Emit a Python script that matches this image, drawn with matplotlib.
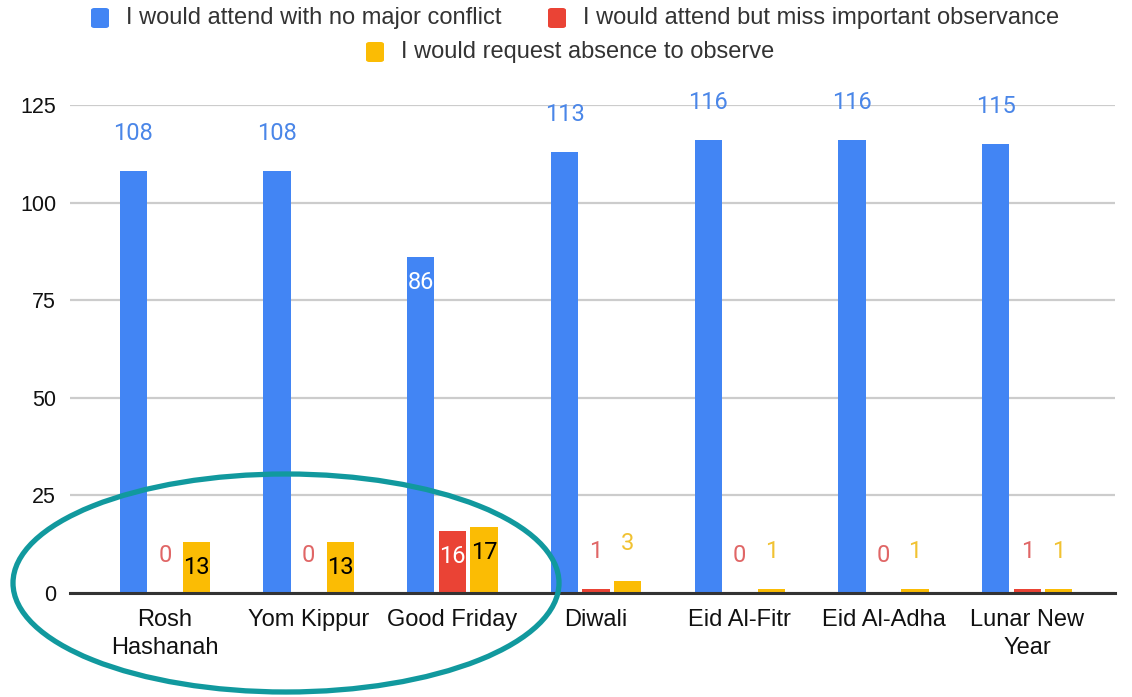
import matplotlib
matplotlib.use("Agg")
import matplotlib.pyplot as plt
from matplotlib.patches import Ellipse, FancyBboxPatch
import numpy as np

categories = ["Rosh\nHashanah", "Yom Kippur", "Good Friday", "Diwali",
              "Eid Al-Fitr", "Eid Al-Adha", "Lunar New\nYear"]
no_conflict = [108, 108, 86, 113, 116, 116, 115]
miss_observance = [0, 0, 16, 1, 0, 0, 1]
request_absence = [13, 13, 17, 3, 1, 1, 1]
series_names = ["I would attend with no major conflict",
                "I would attend but miss important observance",
                "I would request absence to observe"]
y_ticks = [0, 25, 50, 75, 100, 125]

bar_colors = ["#4285F4", "#EA4335", "#FBBC04"]
label_colors = ["#4A86E8", "#E06666", "#F1C232"]
# label placement: True = inside bar top
inside_flags = [
    [False, False, True, False, False, False, False],
    [False, False, True, False, False, False, False],
    [True, True, True, False, False, False, False],
]
inside_text_colors = ["white", "white", "black"]

W, H = 1132, 697
fig = plt.figure(figsize=(W / 100, H / 100), dpi=100)
ax = fig.add_axes([70 / W, 1 - 593 / H, (1115 - 70) / W, (593 - 105) / H])

x = np.arange(len(categories))
offsets = [-0.22, 0.0, 0.22]
width = 0.19
all_series = [no_conflict, miss_observance, request_absence]
for s, (vals, off) in enumerate(zip(all_series, offsets)):
    bars = ax.bar(x + off, vals, width=width, color=bar_colors[s], zorder=3)
    for i, (b, v) in enumerate(zip(bars, vals)):
        cx = b.get_x() + b.get_width() / 2
        if inside_flags[s][i]:
            ax.annotate(str(v), (cx, v), xytext=(0, -18.5), textcoords="offset points",
                        ha="center", va="center", fontsize=17, family="Roboto",
                        color=inside_text_colors[s], zorder=5)
        else:
            ax.annotate(str(v), (cx, v), xytext=(0, 27), textcoords="offset points",
                        ha="center", va="center", fontsize=17, family="Roboto",
                        color=label_colors[s], zorder=5, annotation_clip=False)

ax.set_xlim(-0.661, 6.611)
ax.set_ylim(0, 125)
ax.set_yticks(y_ticks)
ax.set_yticklabels([str(t) for t in y_ticks], fontsize=15.5, family="Liberation Sans", color="#111111")
ax.set_xticks(x)
ax.set_xticklabels(categories, fontsize=17, family="Liberation Sans", color="#111111",
                   linespacing=1.35)
ax.tick_params(axis="both", length=0)
ax.tick_params(axis="y", pad=10)
ax.tick_params(axis="x", pad=11.5)
ax.grid(axis="y", color="#CCCCCC", linewidth=1.6, zorder=0)
for sp in ["top", "right", "left"]:
    ax.spines[sp].set_visible(False)
ax.spines["bottom"].set_color("#333333")
ax.spines["bottom"].set_linewidth(2.2)
ax.spines["bottom"].set_zorder(4)

# legend (manual, centred rows)
legend_items = [
    (series_names[0], bar_colors[0], 91, 18),
    (series_names[1], bar_colors[1], 548, 18),
    (series_names[2], bar_colors[2], 366, 52),
]
for name, col, px, py in legend_items:
    sq = FancyBboxPatch((px / W, 1 - (py + 10) / H), 18 / W, 20 / H,
                        boxstyle="round,pad=0,rounding_size=0.003",
                        transform=fig.transFigure, facecolor=col, edgecolor="none")
    fig.patches.append(sq)
    fig.text((px + 35) / W, 1 - py / H, name, ha="left", va="center",
             fontsize=17, family="Liberation Sans", color="#333333")

# highlight ellipse
ell = Ellipse((286 / W, 1 - 583 / H), 546 / W, 218 / H, transform=fig.transFigure,
              fill=False, edgecolor="#11999E", linewidth=3.8, zorder=10)
fig.patches.append(ell)

fig.savefig("out.png", dpi=100)
